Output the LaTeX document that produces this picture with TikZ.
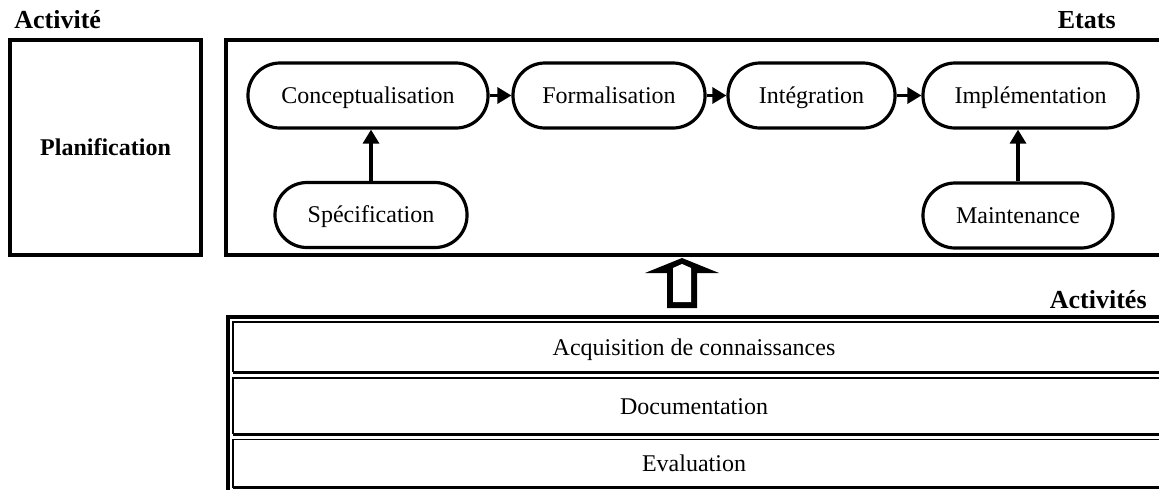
\documentclass[tikz,border=0pt]{standalone}
\usepackage{fontspec}
\setmainfont{Liberation Serif}
\usetikzlibrary{arrows.meta}
\begin{document}
\begin{tikzpicture}[x=0.5pt,y=-0.5pt,
  txt/.style={font=\fontsize{12}{14}\selectfont, text height=8pt, text depth=2.5pt, inner sep=0pt},
  state/.style={txt, text height=10.3pt, draw, line width=1.6pt, rounded corners=16pt, minimum height=32.5pt},
  arr/.style={line width=1.6pt, -{Triangle[length=7pt,width=8pt]}},
  frame/.style={draw, line width=2pt, inner sep=0pt},
  head/.style={font=\fontsize{13}{15}\selectfont\bfseries, inner sep=0pt},
  thinrule/.style={line width=0.8pt},
  thickrule/.style={line width=1.5pt}]
\useasboundingbox (0,0) rectangle (1159,489);
\clip (0,0) rectangle (1159,489);

% column headings
\node[head, anchor=base west] (hact) at (14,28) {Activité};
\node[head, anchor=base east] (hetat) at (1116,28) {Etats};
\node[head, anchor=base east] (hacts) at (1147,308) {Activités};

% planning activity
\node[frame, minimum width=95.5pt, minimum height=107.5pt,
      font=\fontsize{12}{14}\selectfont\bfseries] (plan) at (105.5,147.5) {Planification};

% frame holding the states
\node[frame, minimum width=469.5pt, minimum height=107.5pt] (etats) at (695.5,147.5) {};

% states
\node[state, minimum width=120pt]   (conc)  at (368,95.5)   {Conceptualisation};
\node[state, minimum width=96pt]    (form)  at (609,95.5)   {Formalisation};
\node[state, minimum width=83.5pt]  (integ) at (811.5,95.5) {Intégration};
\node[state, minimum width=107.5pt] (impl)  at (1030.5,95.5){Implémentation};
\node[state, minimum width=96pt]    (spec)  at (371,215)    {Spécification};
\node[state, minimum width=95pt]    (maint) at (1018,215.5) {Maintenance};

\draw[arr] (conc) -- (form);
\draw[arr] (form) -- (integ);
\draw[arr] (integ) -- (impl);
\draw[arr] (spec) -- (spec |- conc.south);
\draw[arr] (maint) -- (maint |- impl.south);

% supporting activities table
\draw[line width=2pt] (228,492) -- (228,316.5) -- (1165,316.5);
\draw[thinrule] (1165,322) -- (233,322) -- (233,372);
\draw[thickrule] (233,372) -- (1165,372);
\draw[thinrule] (1165,378) -- (233,378) -- (233,434);
\draw[thickrule] (233,434) -- (1165,434);
\draw[thinrule] (1165,439.5) -- (233,439.5) -- (233,487.5);
\draw[thickrule] (233,487.5) -- (1165,487.5);

\node[txt] (acq) at (694,350) {Acquisition de connaissances};
\node[txt] (doc) at (694,409) {Documentation};
\node[txt] (eval) at (694,466) {Evaluation};

% hollow arrow from the activities up to the states
\coordinate (tip) at (etats.south -| 682,0);
\fill[black] ([yshift=-0.5pt]tip) -- (719,273) -- (697,273) -- (697,308)
  -- (667,308) -- (667,273) -- (645,273) -- cycle;
\fill[white] (682,264) -- (691,268) -- (691,302) -- (673,302) -- (673,268) -- cycle;
\end{tikzpicture}
\end{document}
